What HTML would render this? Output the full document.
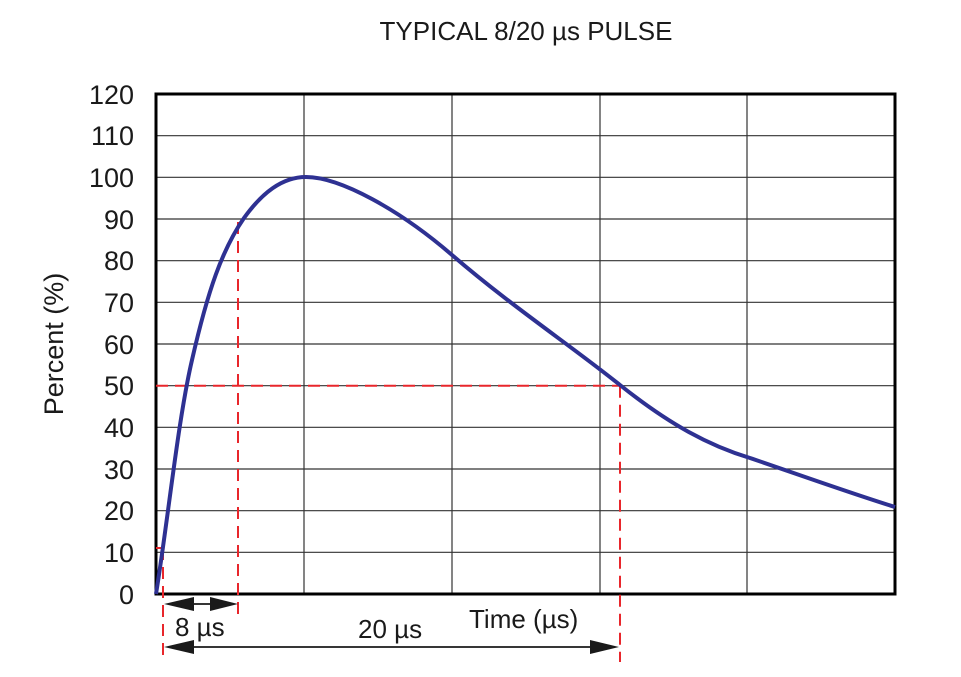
<!DOCTYPE html>
<html><head><style>body{margin:0;background:#fff}svg{display:block}</style></head><body>
<svg width="961" height="677" viewBox="0 0 961 677" font-family="Liberation Sans, sans-serif" fill="#1a1a1a">
<rect width="961" height="677" fill="#fff"/>
<text x="526" y="40" font-size="26" text-anchor="middle">TYPICAL 8/20 µs PULSE</text>
<g stroke="#333" stroke-width="1.2">
<line x1="156" y1="135.7" x2="895" y2="135.7"/><line x1="156" y1="177.3" x2="895" y2="177.3"/>
<line x1="156" y1="219" x2="895" y2="219"/><line x1="156" y1="260.7" x2="895" y2="260.7"/>
<line x1="156" y1="302.3" x2="895" y2="302.3"/><line x1="156" y1="344" x2="895" y2="344"/>
<line x1="156" y1="385.7" x2="895" y2="385.7"/><line x1="156" y1="427.3" x2="895" y2="427.3"/>
<line x1="156" y1="469" x2="895" y2="469"/><line x1="156" y1="510.7" x2="895" y2="510.7"/>
<line x1="156" y1="552.3" x2="895" y2="552.3"/>
<line x1="304" y1="94" x2="304" y2="594"/><line x1="452" y1="94" x2="452" y2="594"/>
<line x1="600" y1="94" x2="600" y2="594"/><line x1="747" y1="94" x2="747" y2="594"/>
</g>
<rect x="156" y="94" width="739" height="500" fill="none" stroke="#000" stroke-width="3"/>
<g font-size="27" text-anchor="end">
<text x="134" y="104">120</text><text x="134" y="145">110</text><text x="134" y="187">100</text>
<text x="134" y="229">90</text><text x="134" y="270">80</text><text x="134" y="312">70</text>
<text x="134" y="354">60</text><text x="134" y="395">50</text><text x="134" y="437">40</text>
<text x="134" y="479">30</text><text x="134" y="520">20</text><text x="134" y="562">10</text>
<text x="134" y="604">0</text>
</g>
<text transform="translate(63,344) rotate(-90)" font-size="27" text-anchor="middle">Percent (%)</text>
<g stroke="#e8262b" stroke-width="2" stroke-dasharray="12,7" fill="none">
<line x1="163" y1="548" x2="163" y2="662"/>
<line x1="238" y1="222" x2="238" y2="620"/>
<line x1="620" y1="385.7" x2="620" y2="662"/>
<line x1="156" y1="385.7" x2="620" y2="385.7"/>
<line x1="156" y1="548" x2="163" y2="548" stroke-dasharray="none"/>
</g>
<path d="M156,594 C168,520 178,420 192,360 C208,290 222,250 244,218 C262,193 282,177 306,177 C340,177 400,210 452,255 C510,305 570,345 620,385 C670,425 710,446 750,458 C800,475 850,493 895,507" fill="none" stroke="#2e3192" stroke-width="4"/>
<g stroke="#1a1a1a" stroke-width="1.8">
<line x1="170" y1="604" x2="232" y2="604"/>
<line x1="170" y1="647" x2="612" y2="647"/>
</g>
<g fill="#1a1a1a">
<polygon points="164,604 194,597 194,611"/><polygon points="238,604 210,597 210,611"/>
<polygon points="164,647 194,640 194,654"/><polygon points="619,647 590,640 590,654"/>
</g>
<g font-size="26">
<text x="175" y="636">8 µs</text>
<text x="358" y="638">20 µs</text>
<text x="469" y="628">Time (µs)</text>
</g>
</svg>
</body></html>
